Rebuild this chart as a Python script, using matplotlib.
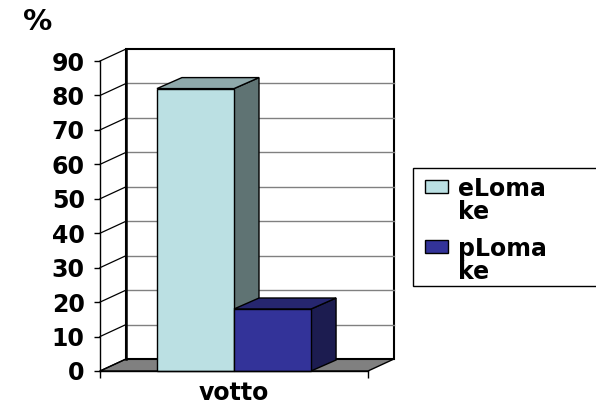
import matplotlib
matplotlib.use("Agg")
import matplotlib.pyplot as plt
from matplotlib.patches import Polygon, Rectangle

# ---- data ----
categories = ["votto"]
series_labels = ["eLoma\nke", "pLoma\nke"]
series_values = [82, 18]
yticks = list(range(0, 91, 10))
y_label = "%"

front_colors = ["#BBE0E3", "#333399"]
side_colors = ["#5F7373", "#1C1C50"]
top_colors = ["#8FA9AB", "#26266F"]

W, H = 596, 405
fig = plt.figure(figsize=(W / 100, H / 100), dpi=100)
fig.patch.set_facecolor("white")

FONT = "DejaVu Sans"
FS = 17

# axes geometry (front plane: x 0..1, y 0..90)
x0px, y0px = 100, 371
px_x = 268.0
px_y = 34.44 / 10
xmax, ymax = 1.12, 94
ax = fig.add_axes([x0px / W, (H - y0px) / H, xmax * px_x / W, ymax * px_y / H])
ax.set_xlim(0, xmax)
ax.set_ylim(0, ymax)
for s in ax.spines.values():
    s.set_visible(False)
ax.patch.set_alpha(0)

DX = 26 / px_x
DY = 12 / px_y
top = max(yticks)

# floor
ax.add_patch(Polygon([(0, 0), (1, 0), (1 + DX, DY), (DX, DY)], closed=True,
                     facecolor="#808080", edgecolor="black", lw=1, zorder=1, clip_on=False))
# back wall
ax.add_patch(Rectangle((DX, DY), 1, top, facecolor="white", edgecolor="black", lw=1.5,
                       zorder=1, clip_on=False))
for v in yticks[1:-1]:
    ax.plot([DX, 1 + DX], [v + DY, v + DY], color="#808080", lw=1, zorder=1.5, clip_on=False)
# left wall
for v in yticks:
    ax.plot([0, DX], [v, v + DY], color="black", lw=0.9, zorder=1.5, clip_on=False)
ax.plot([0, 0], [0, top], color="black", lw=1, zorder=1.5, clip_on=False)
ax.plot([DX, DX], [DY, top + DY], color="black", lw=1.8, zorder=1.6, clip_on=False)

# bars
n = len(series_values)
bw = 0.2875
bdx = 25 / px_x
bdy = 11 / px_y
for i, (v, fc, sc, tc, lab) in enumerate(zip(series_values, front_colors, side_colors,
                                              top_colors, series_labels)):
    xc = 0.5 + (i - (n - 1) / 2) * bw
    l, r = xc - bw / 2, xc + bw / 2
    z = 3 + i
    ax.add_patch(Polygon([(r, 0), (r + bdx, bdy), (r + bdx, v + bdy), (r, v)], closed=True,
                         facecolor=sc, edgecolor="black", lw=1, zorder=z, clip_on=False))
    ax.add_patch(Polygon([(l, v), (r, v), (r + bdx, v + bdy), (l + bdx, v + bdy)], closed=True,
                         facecolor=tc, edgecolor="black", lw=1, zorder=z, clip_on=False))
    ax.bar([xc], [v], width=bw, color=fc, edgecolor="black", lw=1, zorder=z, clip_on=False)

# front floor edge
ax.plot([0, 1], [0, 0], color="black", lw=1, zorder=6, clip_on=False)

# ticks
ax.set_yticks(yticks)
ax.set_yticklabels([str(t) for t in yticks], fontsize=FS, fontweight="bold", family=FONT)
ax.tick_params(axis="y", length=4, width=1, direction="out", pad=7)
ax.set_xticks([0.5])
ax.set_xticklabels(categories, fontsize=FS, fontweight="bold", family=FONT)
ax.tick_params(axis="x", which="major", length=0, pad=7)
ax.set_xticks([0, 1], minor=True)
ax.tick_params(axis="x", which="minor", length=5, width=1, direction="out")

fig.text(23 / W, 1 - 8 / H, y_label, fontsize=21, fontweight="bold", family=FONT,
         ha="left", va="top")

# legend
fig.add_artist(Rectangle((413 / W, (H - 286) / H), (620 - 413) / W, 118 / H,
                         transform=fig.transFigure, facecolor="white", edgecolor="black",
                         lw=1, clip_on=False))
for i, (lab, fc) in enumerate(zip(series_labels, front_colors)):
    ytop = 180 + 60 * i
    fig.add_artist(Rectangle((425 / W, (H - ytop - 13) / H), 23 / W, 13 / H,
                             transform=fig.transFigure, facecolor=fc, edgecolor="black", lw=1))
    fig.text(458 / W, 1 - (ytop - 3) / H, lab, fontsize=FS, fontweight="bold", family=FONT,
             ha="left", va="top", linespacing=0.95)

fig.savefig("out.png", dpi=100, facecolor="white")
